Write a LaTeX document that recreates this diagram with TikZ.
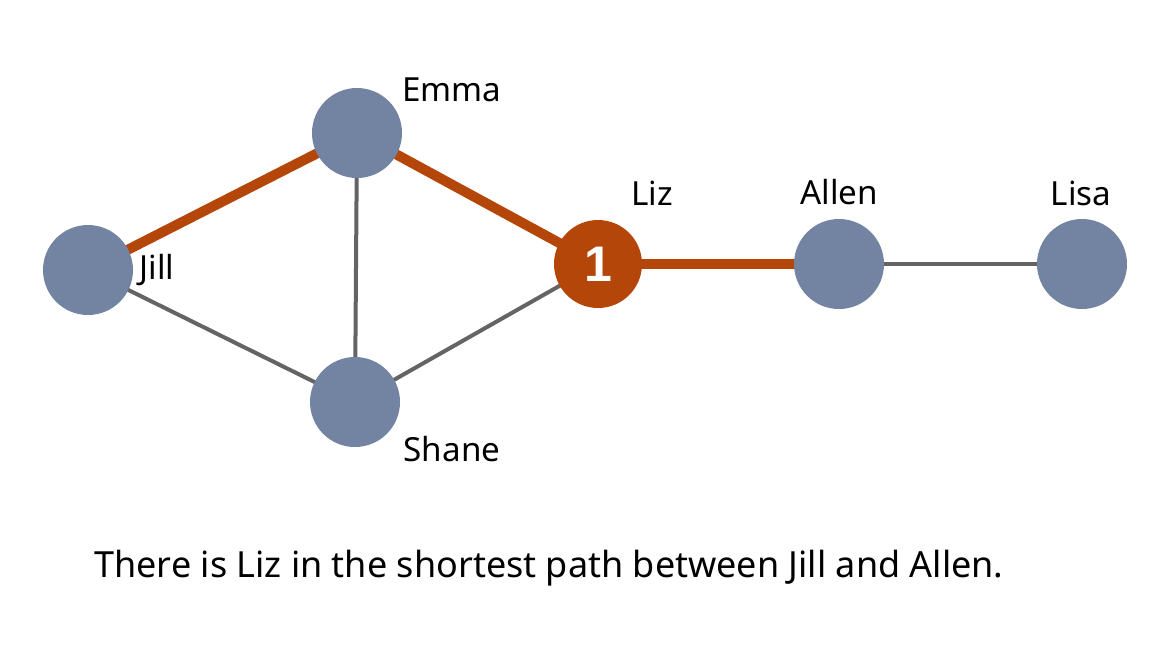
\documentclass[tikz,border=0pt]{standalone}
\usepackage{fontspec}
\setmainfont{Noto Sans}
\newfontfamily\hubfont{Liberation Sans}
\usetikzlibrary{backgrounds}
\definecolor{nodeblue}{HTML}{7384A2}
\definecolor{pathorange}{HTML}{B5460A}
\definecolor{edgegray}{HTML}{646464}
\begin{document}
\begin{tikzpicture}[x=0.5pt,y=-0.5pt,
  person/.style={circle,fill=nodeblue,minimum size=45pt,inner sep=0pt},
  hub/.style={circle,fill=pathorange,minimum size=44pt,inner sep=0pt,text=white,font=\hubfont\fontsize{25}{28}\selectfont\bfseries},
  lbl/.style={font=\fontsize{16.6}{19}\selectfont,inner sep=0pt},
  caplbl/.style={font=\fontsize{18}{21}\selectfont,inner sep=0pt},
  thin/.style={draw=edgegray,line width=2pt},
  thick/.style={draw=pathorange,line width=5pt}]
\useasboundingbox (0,0) rectangle (1170,644);
\node[person] (jill) at (88,270) {};
\node[person] (emma) at (357,133) {};
\node[person] (shane) at (355,402) {};
\node[hub] (liz) at (598,264) {1};
\node[person] (allen) at (839,264) {};
\node[person] (lisa) at (1082,264) {};
\begin{scope}[on background layer]
\draw[thin] (jill.center) -- (shane.center);
\draw[thin] (emma.center) -- (shane.center);
\draw[thin] (shane.center) -- (liz.center);
\draw[thin] (allen.center) -- (lisa.center);
\draw[thick] (jill.center) -- (emma.center);
\draw[thick] (emma.center) -- (liz.center);
\draw[thick] (liz.center) -- (allen.center);
\end{scope}
\node[lbl] (tjill) at (157,270) {Jill};
\node[lbl] (temma) at (452,90) {Emma};
\node[lbl] (tliz) at (652,193) {Liz};
\node[lbl] (tallen) at (839,192) {Allen};
\node[lbl] (tlisa) at (1081,193) {Lisa};
\node[lbl] (tshane) at (452,449) {Shane};
\node[caplbl] (cap) at (549,568) {There is Liz in the shortest path between Jill and Allen.};
\end{tikzpicture}
\end{document}
